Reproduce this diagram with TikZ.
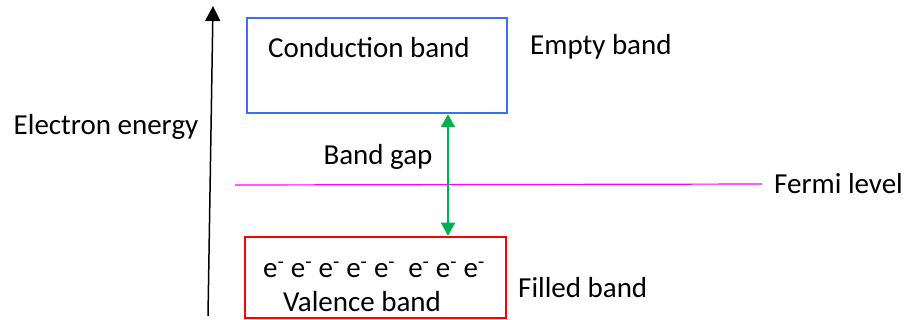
\documentclass[tikz,border=0pt]{standalone}
\usepackage{fontspec}
\setmainfont{Carlito}
\usetikzlibrary{arrows.meta}
\definecolor{bandblue}{RGB}{58,110,245}
\definecolor{bandred}{RGB}{255,0,0}
\definecolor{gapgreen}{RGB}{0,176,80}
\definecolor{fermimag}{RGB}{255,0,255}
\tikzset{
  lbl/.style={inner sep=0pt, font=\fontsize{29pt}{34pt}\selectfont},
  bandbox/.style={draw, line width=2.5pt, inner sep=0pt},
}
\begin{document}
\begin{tikzpicture}[x=1pt,y=-1pt]
\useasboundingbox (0,0) rectangle (914,320);
% bands
\node[bandbox, draw=bandblue, minimum width=260pt, minimum height=95pt] (cb) at (377,65.5) {};
\node[bandbox, draw=bandred, minimum width=261pt, minimum height=81pt] (vb) at (375.5,277.5) {};
% texts
\node[lbl] (cbt) at (369,48) {Conduction band};
\node[lbl, anchor=west] (eb) at (530,47) {Empty band};
\node[lbl] (bg) at (378,157) {Band gap};
\node[lbl] (el) at (374,270) {e\textsuperscript{-} e\textsuperscript{-} e\textsuperscript{-} e\textsuperscript{-} e\textsuperscript{-} \ e\textsuperscript{-} e\textsuperscript{-} e\textsuperscript{-}};
\node[lbl] (vbt) at (362,302) {Valence band};
\node[lbl, anchor=west] (fl) at (774,184) {Fermi level};
\node[lbl, anchor=west] (fb) at (518,288) {Filled band};
\node[lbl] (ee) at (106,127) {Electron energy};
% axis
\coordinate (ax0) at (208,316);
\coordinate (ax1) at (213,6);
\draw[line width=1.5pt, -{Triangle[length=15pt,width=15pt]}] (ax0) -- (ax1);
% fermi level
\coordinate (f0) at (235,185);
\draw[fermimag, line width=1.2pt, shorten >=12pt] (f0) -- (fl.west);
% band gap arrow
\coordinate (gx) at (448,0);
\draw[gapgreen, line width=1.5pt, {Triangle[length=13pt,width=14pt]}-{Triangle[length=13pt,width=14pt]}] (cb.south -| gx) -- (vb.north -| gx);
\end{tikzpicture}
\end{document}
